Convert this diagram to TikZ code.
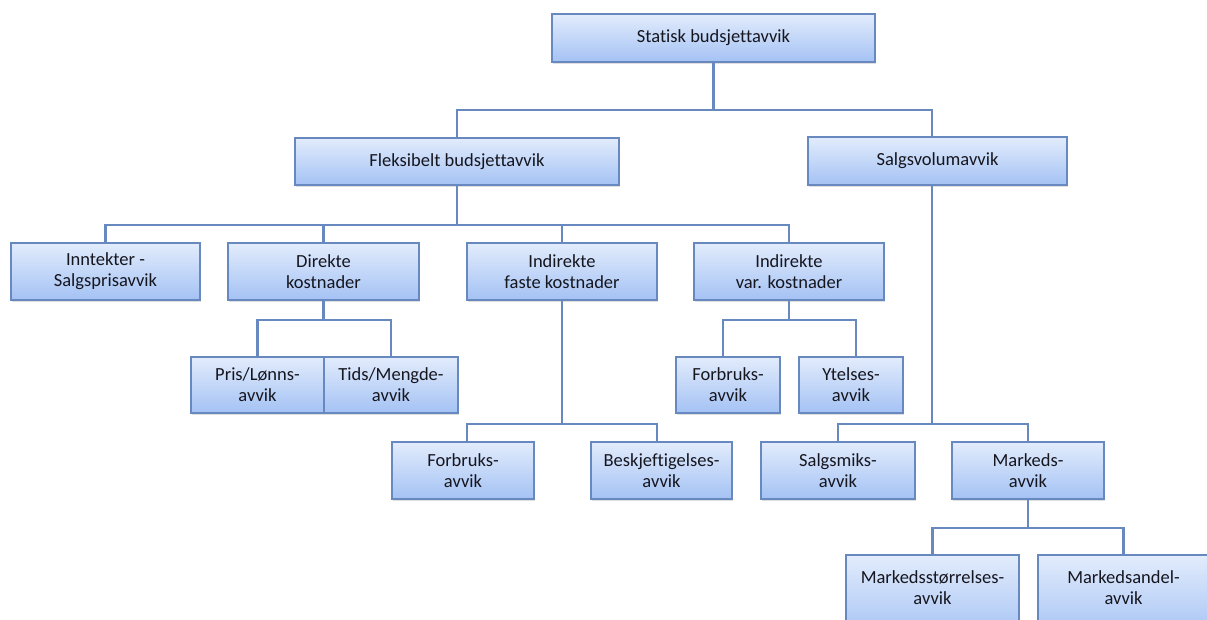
\documentclass[tikz,border=0pt]{standalone}
\usepackage{fontspec}
\setmainfont{Carlito}[Ligatures=NoCommon]
\usetikzlibrary{shadows}
\definecolor{boxtop}{HTML}{E2ECFC}
\definecolor{boxbot}{HTML}{A4C2F4}
\definecolor{boxline}{HTML}{6789C0}
\definecolor{txt}{HTML}{16161F}
\tikzset{
  box/.style={draw=boxline, line width=1.9pt, top color=boxtop, bottom color=boxbot,
    align=center, text=txt, inner sep=2pt,
    font=\fontsize{18.5}{21}\selectfont,
    drop shadow={opacity=0.25, shadow xshift=1pt, shadow yshift=-2pt}},
  conn/.style={draw=boxline, line width=2.1pt}
}
\begin{document}
\begin{tikzpicture}[x=1pt, y=-1pt]
\useasboundingbox (0,0) rectangle (1207,619);
\clip (0,0) rectangle (1207,619);
% top level
\node[box, minimum width=323pt, minimum height=48pt] (stat) at (713.5,38) {Statisk budsjettavvik};
% second level
\node[box, minimum width=324pt, minimum height=47pt] (flex) at (457,161.5) {Fleksibelt budsjettavvik};
\node[box, minimum width=259pt, minimum height=48pt] (salg) at (937.5,161) {Salgsvolumavvik};
% third level
\node[box, minimum width=189pt, minimum height=57pt] (innt) at (105.5,271.5) {Inntekter -\\Salgsprisavvik};
\node[box, minimum width=191pt, minimum height=57pt] (dir) at (323.5,271.5) {Direkte\\kostnader};
\node[box, minimum width=190pt, minimum height=57pt] (ifast) at (562,271.5) {Indirekte\\faste kostnader};
\node[box, minimum width=190pt, minimum height=57pt] (ivar) at (789,271.5) {Indirekte\\var. kostnader};
% under direct costs and variable indirect costs
\node[box, minimum width=133pt, minimum height=56pt] (pris) at (257.5,385) {Pris/Lønns-\\avvik};
\node[box, minimum width=134pt, minimum height=56pt] (tids) at (391,385) {Tids/Mengde-\\avvik};
\node[box, minimum width=104pt, minimum height=56pt] (fv) at (728,385) {Forbruks-\\avvik};
\node[box, minimum width=104pt, minimum height=56pt] (yt) at (851,385) {Ytelses-\\avvik};
% under fixed indirect costs and sales volume
\node[box, minimum width=142pt, minimum height=57pt] (ff) at (463,470.5) {Forbruks-\\avvik};
\node[box, minimum width=141pt, minimum height=57pt] (besk) at (661.5,470.5) {Beskjeftigelses-\\avvik};
\node[box, minimum width=154pt, minimum height=57pt] (smiks) at (838,470.5) {Salgsmiks-\\avvik};
\node[box, minimum width=152pt, minimum height=57pt] (mark) at (1028,470.5) {Markeds-\\avvik};
% market level, running past the lower edge
\node[box, minimum width=173pt, minimum height=85pt] (mstr) at (932.5,597.5) {Markedsstørrelses-\\avvik\rule[-20pt]{0pt}{20pt}};
\node[box, minimum width=171pt, minimum height=85pt] (mand) at (1123.5,597.5) {Markedsandel-\\avvik\rule[-20pt]{0pt}{20pt}};
% connectors
\draw[conn] (stat.south) -- ++(0,47) -| (flex.north);
\draw[conn] (stat.south) -- ++(0,47) -| ([xshift=-5.5pt]salg.north);
\draw[conn] (flex.south) -- ++(0,39) -| (innt.north);
\draw[conn] (flex.south) -- ++(0,39) -| (dir.north);
\draw[conn] (flex.south) -- ++(0,39) -| (ifast.north);
\draw[conn] (flex.south) -- ++(0,39) -| (ivar.north);
\draw[conn] (dir.south) -- ++(0,19) -| (pris.north);
\draw[conn] (dir.south) -- ++(0,19) -| (tids.north);
\draw[conn] (ivar.south) -- ++(0,19) -| ([xshift=-5pt]fv.north);
\draw[conn] (ivar.south) -- ++(0,19) -| ([xshift=5pt]yt.north);
\draw[conn] (ifast.south) -- ++(0,123) -| ([xshift=4pt]ff.north);
\draw[conn] (ifast.south) -- ++(0,123) -| ([xshift=-4.5pt]besk.north);
\draw[conn] ([xshift=-5.5pt]salg.south) -- ++(0,238) -| (smiks.north);
\draw[conn] ([xshift=-5.5pt]salg.south) -- ++(0,238) -| (mark.north);
\draw[conn] (mark.south) -- ++(0,28) -| (mstr.north);
\draw[conn] (mark.south) -- ++(0,28) -| (mand.north);
\end{tikzpicture}
\end{document}
